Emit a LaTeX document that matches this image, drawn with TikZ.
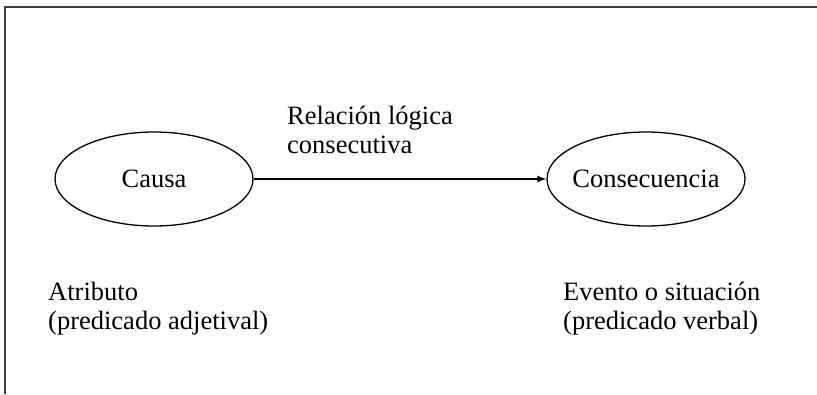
\documentclass[tikz,border=0pt]{standalone}
\usepackage{fontspec}
\setmainfont{Liberation Serif}
\usetikzlibrary{arrows.meta,shapes.geometric}
\begin{document}
\begin{tikzpicture}[x=1bp,y=-1bp,
  frame/.style={line width=2bp,draw=black!75},
  oval/.style={ellipse,draw,line width=1.3bp,minimum width=198bp,minimum height=94bp,inner sep=0pt,font=\fontsize{26.5bp}{29bp}\selectfont},
  lbl/.style={anchor=base west,align=left,inner sep=0pt,font=\fontsize{26.5bp}{29bp}\selectfont},
  conn/.style={line width=1.2bp,-{Latex[length=9bp,width=7bp]}}]
\useasboundingbox (0,0) rectangle (817,394);
\coordinate (tr) at (817,7);
\coordinate (tl) at (5,7);
\coordinate (bl) at (5,394);
\draw[frame] (tr) -- (tl) -- (bl);
\node[oval] (causa) at (154,179) {\makebox[0pt]{Causa}};
\node[oval] (conse) at (646,179) {\makebox[0pt]{Consecuencia}};
\draw[conn] (causa) -- (conse);
\node[lbl] (rel) at (287,153) {Relación lógica\\consecutiva};
\node[lbl] (atr) at (48,329) {Atributo\\(predicado adjetival)};
\node[lbl] (eve) at (563,329) {Evento o situación\\(predicado verbal)};
\end{tikzpicture}
\end{document}
